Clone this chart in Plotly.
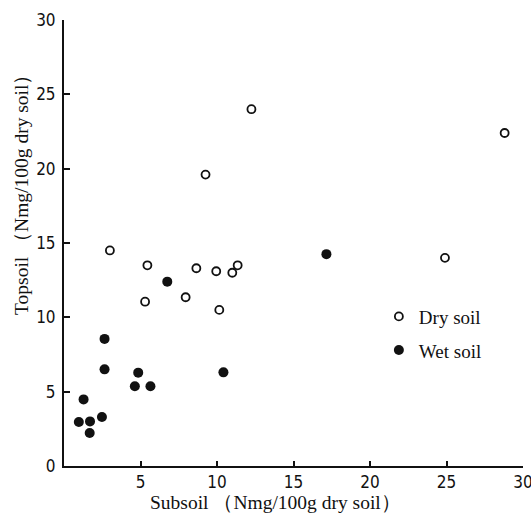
import plotly.graph_objects as go

# Dry soil (open circles)
dry_x = [3.0, 9.25, 12.25, 28.8, 24.9, 5.45, 8.65, 9.95, 11.0, 11.35, 5.3, 7.95, 10.15]
dry_y = [14.5, 19.6, 24.0, 22.4, 14.0, 13.5, 13.3, 13.1, 13.0, 13.5, 11.05, 11.35, 10.5]

# Wet soil (filled circles)
wet_x = [17.15, 6.75, 2.65, 2.65, 4.85, 4.63, 5.65, 10.42, 1.28, 0.97, 1.7, 1.68, 2.48]
wet_y = [14.25, 12.4, 8.55, 6.5, 6.28, 5.37, 5.37, 6.3, 4.48, 2.96, 3.0, 2.22, 3.3]

x_ticks = [5, 10, 15, 20, 25, 30]
y_ticks = [0, 5, 10, 15, 20, 25, 30]

serif = "Liberation Serif, Times New Roman, serif"
narrow = "DejaVu Sans Condensed, Liberation Sans Narrow, Arial Narrow, sans-serif"

# figure is a bit wider than the 531px window so the last x label can hang
# past the right edge (as in the reference) without shrinking the plot area
W, H = 545, 513
ML, MT, MR, MB = 64, 20, 22, 47
PW, PH = W - ML - MR, H - MT - MB  # 459 x 446

fig = go.Figure()
fig.add_trace(go.Scatter(
    x=dry_x, y=dry_y, mode="markers", name="Dry soil", legendgroup="a",
    marker=dict(symbol="circle-open", size=8, color="#111", line=dict(width=1.8, color="#111")),
))
fig.add_trace(go.Scatter(
    x=wet_x, y=wet_y, mode="markers", name="Wet soil", legendgroup="b",
    marker=dict(symbol="circle", size=10, color="#111"),
))

fig.update_layout(
    width=W, height=H,
    margin=dict(l=ML, r=MR, t=MT, b=MB),
    plot_bgcolor="white", paper_bgcolor="white",
    showlegend=True,
    legend=dict(
        x=0.686, y=0.297, xanchor="left", yanchor="middle",
        font=dict(family=serif, size=19, color="#111"),
        bgcolor="rgba(0,0,0,0)", traceorder="grouped", tracegroupgap=6,
        itemwidth=30,
    ),
    annotations=[
        dict(text="Subsoil （Nmg/100g dry soil）", xref="paper", yref="paper",
             x=(275 - ML) / PW, y=-(502 - 466) / PH, xanchor="center", yanchor="middle",
             showarrow=False, font=dict(family=serif, size=19.5, color="#111")),
        dict(text="Topsoil （Nmg/100g dry soil）", xref="paper", yref="paper",
             x=-(ML - 21) / PW, y=(466 - 190) / PH, xanchor="center", yanchor="middle",
             textangle=-90, showarrow=False, font=dict(family=serif, size=19.5, color="#111")),
    ],
)
fig.update_xaxes(
    range=[0, 30], tickvals=x_ticks, ticks="inside", ticklen=5, tickwidth=1.5,
    tickcolor="#111", showline=True, linecolor="#111", linewidth=2, showgrid=False,
    zeroline=False, tickfont=dict(family=narrow, size=17, color="#111"),
    automargin=False,
)
fig.update_yaxes(
    range=[0, 30], tickvals=y_ticks, ticks="inside", ticklen=6, tickwidth=1.5,
    tickcolor="#111", showline=True, linecolor="#111", linewidth=2, showgrid=False,
    zeroline=False, tickfont=dict(family=narrow, size=17, color="#111"),
    ticklabelstandoff=3, automargin=False,
)

fig.write_html(
    "out.html",
    config={"displayModeBar": False},
    post_script="document.body.style.margin='0px';"
                "document.documentElement.style.overflow='hidden';",
)
